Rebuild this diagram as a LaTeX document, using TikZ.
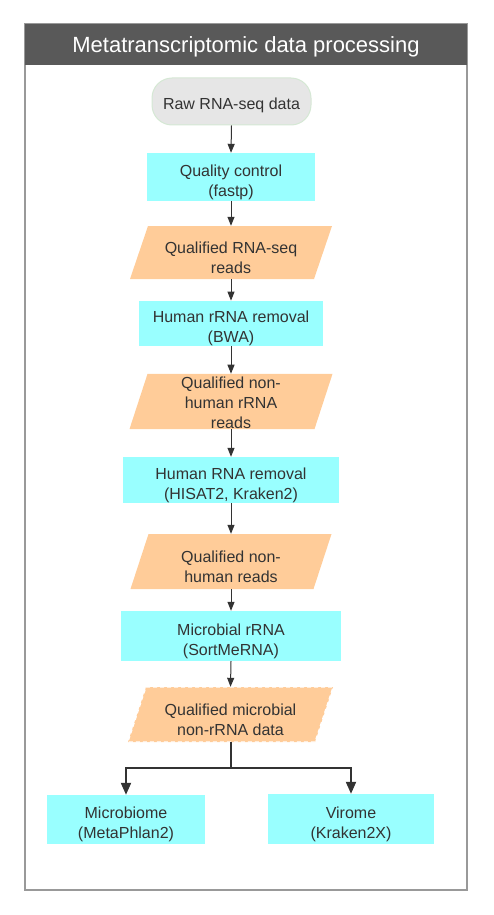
\documentclass[tikz,border=0pt]{standalone}
\usepackage{fontspec}
\setmainfont{Liberation Sans}
\usetikzlibrary{arrows.meta}
\definecolor{cyanbox}{HTML}{99FFFF}
\definecolor{orangebox}{HTML}{FFCC99}
\definecolor{txt}{HTML}{333333}
\definecolor{hdr}{HTML}{595959}
\definecolor{frame}{HTML}{999999}
\definecolor{rawfill}{HTML}{E6E6E6}
\definecolor{rawline}{HTML}{D5E8D4}
\newcommand{\dn}[1][22pt]{\rule{0pt}{#1}}
\tikzset{
  every node/.style={font=\fontsize{16}{20}\selectfont, text=txt, align=center, inner sep=0pt},
  procbox/.style={fill=cyanbox, minimum width=#1},
  databox/.style={minimum width=#1, minimum height=55pt,
    path picture={\fill[orangebox] ([xshift=18pt]path picture bounding box.north west) -- (path picture bounding box.north east) -- ([xshift=-18pt]path picture bounding box.south east) -- (path picture bounding box.south west) -- cycle;}},
  dashedge/.style={path picture={\fill[orangebox] ([xshift=18pt]path picture bounding box.north west) -- (path picture bounding box.north east) -- ([xshift=-18pt]path picture bounding box.south east) -- (path picture bounding box.south west) -- cycle;
    \draw[white, line width=1.1pt, dash pattern=on 4pt off 3pt] ([xshift=18pt]path picture bounding box.north west) -- (path picture bounding box.north east) -- ([xshift=-18pt]path picture bounding box.south east) -- (path picture bounding box.south west) -- cycle;}},
  flow/.style={draw=txt, line width=1pt, -{Triangle[length=9pt,width=7pt]}},
  bigflow/.style={draw=txt, line width=2pt, -{Triangle[length=12pt,width=10pt]}},
}
\begin{document}
\begin{tikzpicture}[x=1pt,y=-1pt]
\useasboundingbox (0,0) rectangle (493,915);
% frame and header
\draw[frame, line width=1.5pt] (25,24) rectangle (467,890);
\fill[hdr] (25,24) rectangle (467,65);
\node[text=white, font=\fontsize{22}{24}\selectfont] (title) at (246,47) {Metatranscriptomic data processing};
% nodes
\node[fill=rawfill, draw=rawline, line width=1pt, rounded corners=20pt, minimum width=159pt, minimum height=47pt] (raw) at (231.5,101.5) {\dn[20pt]Raw RNA-seq data};
\node[procbox=168pt, minimum height=48pt] (qc) at (231,177) {\dn Quality control\\(fastp)};
\node[databox=202pt, minimum height=53pt] (p1) at (231,252.5) {\dn Qualified RNA-seq\\reads};
\node[procbox=184pt, minimum height=45pt] (hr) at (231,323.5) {\dn Human rRNA removal\\(BWA)};
\node[databox=203pt] (p2) at (231,401.5) {\dn[15pt]Qualified non-\\human rRNA\\reads};
\node[procbox=216pt, minimum height=46pt] (hn) at (231,480) {\dn Human RNA removal\\(HISAT2, Kraken2)};
\node[databox=201pt] (p3) at (231,561.5) {\dn Qualified non-\\human reads};
\node[procbox=220pt, minimum height=50pt] (mr) at (231,636) {\dn Microbial rRNA\\(SortMeRNA)};
\node[databox=205pt, dashedge] (p4) at (230.5,714.5) {\dn Qualified microbial\\non-rRNA data};
\node[procbox=158pt, minimum height=49pt] (mb) at (126,819.5) {\dn Microbiome\\(MetaPhlan2)};
\node[procbox=166pt, minimum height=50pt] (vr) at (351,819) {\dn Virome\\(Kraken2X)};
% connectors
\draw[flow] (raw.south) -- (qc.north);
\draw[flow] (qc.south) -- (p1.north);
\draw[flow] (p1.south) -- (hr.north);
\draw[flow] (hr.south) -- (p2.north);
\draw[flow] (p2.south) -- (hn.north);
\draw[flow] (hn.south) -- (p3.north);
\draw[flow] (p3.south) -- (mr.north);
\draw[flow] (mr.south) -- (p4.north);
\coordinate (split) at (231,768);
\draw[draw=txt, line width=2pt] ([xshift=0.5pt]p4.south) -- (split);
\draw[bigflow] (split) -| (mb.north);
\draw[bigflow] (split) -| (vr.north);
\end{tikzpicture}
\end{document}
